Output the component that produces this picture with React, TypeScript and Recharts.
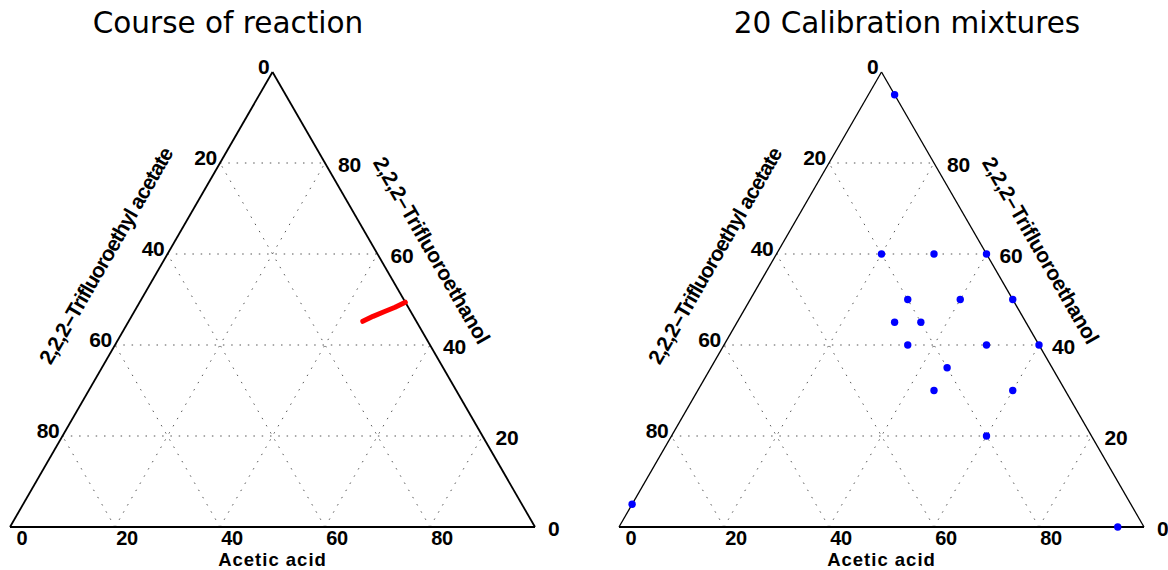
import React from 'react';
import { ScatterChart, Scatter, XAxis, YAxis, ReferenceLine } from 'recharts';

// tick values shown on every side of the triangles
const sideTicks = [0, 20, 40, 60, 80];
const gridLevels = [20, 40, 60, 80];

// course of reaction: % acetic acid and % trifluoroethanol (rest = trifluoroethyl acetate)
const reactionAcetic = [50.6, 49.2, 47.6, 46.0, 44.6];
const reactionTfe = [49.4, 48.3, 47.3, 46.3, 45.2];

// the calibration mixtures (some coincide, 18 visible)
const calibAcetic = [5, 20, 30, 40, 30, 40, 50, 30, 35, 35, 50, 60, 45, 45, 60, 60, 95, 0];
const calibTfe = [95, 60, 60, 60, 50, 50, 50, 45, 45, 40, 40, 40, 35, 30, 30, 20, 0, 5];

const SQ = Math.sqrt(3) / 2;
const H = 100 * SQ;
const toXY = (a: number, t: number) => ({ x: a + t / 2, y: t * SQ });

const FONT = '"Liberation Sans", Arial, sans-serif';
const TITLE_FONT = '"DejaVu Sans", Verdana, sans-serif';

const edges = [
  [toXY(0, 0), toXY(100, 0)],
  [toXY(100, 0), toXY(0, 100)],
  [toXY(0, 100), toXY(0, 0)],
];

const gridSegments = gridLevels.flatMap((v) => [
  [toXY(0, v), toXY(100 - v, v)],
  [toXY(v, 0), toXY(v, 100 - v)],
  [toXY(100 - v, 0), toXY(0, 100 - v)],
]);

const leftLabels = sideTicks.map((v) => ({ ...toXY(0, 100 - v), label: String(v) }));
const rightLabels = sideTicks.map((v) => ({ ...toXY(100 - v, v), label: String(v) }));
const bottomLabels = sideTicks.map((v) => ({ ...toXY(v, 0), label: String(v) }));

const bottomTitle = [{ ...toXY(50, 0), label: 'Acetic acid' }];
const leftTitle = [{ ...toXY(0, 50), label: '2,2,2–Trifluoroethyl acetate' }];
const rightTitle = [{ ...toXY(50, 50), label: '2,2,2–Trifluoroethanol' }];

const reaction = reactionAcetic.map((a, i) => toXY(a, reactionTfe[i]));
const calibration = calibAcetic.map((a, i) => toXY(a, calibTfe[i]));

const nothing = () => <g />;

const textShape = (dx: number, dy: number, anchor: string, angle = 0, spacing = -0.3, size = 21) => (props: any) => {
  const x = props.cx + dx;
  const y = props.cy + dy;
  return (
    <text
      x={x}
      y={y}
      textAnchor={anchor}
      fontFamily={FONT}
      fontWeight="bold"
      fontSize={size}
      letterSpacing={spacing}
      fill="#000"
      transform={angle ? `rotate(${angle} ${x} ${y})` : undefined}
    >
      {props.payload.label}
    </text>
  );
};

const blueDot = (props: any) => <circle cx={props.cx} cy={props.cy} r={3.7} fill="#0000ff" />;

function Ternary({ left, edgeWidth, children }: { left: number; edgeWidth: number; children?: React.ReactNode }) {
  return (
    <ScatterChart
      width={584}
      height={570}
      margin={{ top: 72, right: 584 - left - 525, bottom: 43, left }}
      accessibilityLayer={false}
    >
      <XAxis type="number" dataKey="x" domain={[0, 100]} hide />
      <YAxis type="number" dataKey="y" domain={[0, H]} hide />
      {gridSegments.map((s, i) => (
        <ReferenceLine
          key={'g' + i}
          segment={s}
          stroke="#555"
          strokeWidth={1}
          strokeDasharray="1.5 6.8"
          ifOverflow="visible"
        />
      ))}
      {edges.map((s, i) => (
        <ReferenceLine
          key={'e' + i}
          segment={s}
          stroke="#000"
          strokeWidth={i === 0 ? 2.2 : edgeWidth}
          ifOverflow="visible"
        />
      ))}
      <Scatter data={leftLabels} shape={textShape(-3, 2, 'end')} isAnimationActive={false} />
      <Scatter data={rightLabels} shape={textShape(13, 9, 'start')} isAnimationActive={false} />
      <Scatter data={bottomLabels} shape={textShape(12, 18, 'middle', 0, -0.3, 20)} isAnimationActive={false} />
      <Scatter data={bottomTitle} shape={textShape(0, 39, 'middle', 0, 1, 18.5)} isAnimationActive={false} />
      <Scatter data={leftTitle} shape={textShape(-29, -40, 'middle', -60, -0.9)} isAnimationActive={false} />
      <Scatter data={rightTitle} shape={textShape(21.6, -45.7, 'middle', 60)} isAnimationActive={false} />
      {children}
    </ScatterChart>
  );
}

export default function App() {
  return (
    <div style={{ position: 'absolute', left: 0, top: 0, width: 1168, height: 570, background: '#fff' }}>
      <div style={{ position: 'absolute', left: 0, top: 0 }}>
        <Ternary left={10} edgeWidth={1.8}>
          <Scatter
            data={reaction}
            shape={nothing}
            line={{ stroke: '#ff0000', strokeWidth: 5, strokeLinecap: 'round', strokeLinejoin: 'round' }}
            isAnimationActive={false}
          />
        </Ternary>
      </div>
      <div style={{ position: 'absolute', left: 584, top: 0 }}>
        <Ternary left={35} edgeWidth={1.3}>
          <Scatter data={calibration} shape={blueDot} isAnimationActive={false} />
        </Ternary>
      </div>
      <svg width={1168} height={60} style={{ position: 'absolute', left: 0, top: 0, pointerEvents: 'none' }}>
        <text x={228} y={33} textAnchor="middle" fontFamily={TITLE_FONT} fontSize={29.5} fill="#000">
          Course of reaction
        </text>
        <text x={907} y={33} textAnchor="middle" fontFamily={TITLE_FONT} fontSize={29.5} fill="#000">
          20 Calibration mixtures
        </text>
      </svg>
    </div>
  );
}
